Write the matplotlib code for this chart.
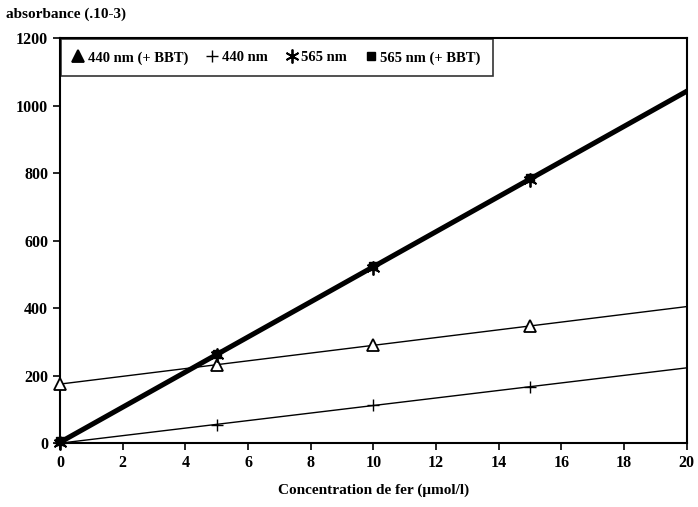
import matplotlib
matplotlib.use("Agg")
import matplotlib.pyplot as plt
import numpy as np

plt.rcParams['font.family'] = ['Liberation Serif', 'DejaVu Serif']

# concentrations de fer (umol/l)
conc = [0, 5, 10, 15]

# absorbances (.10-3)
abs_440_bbt = [175, 232, 290, 347]
abs_440 = [0, 55, 112, 167]
abs_565 = [0, 260, 520, 780]
abs_565_bbt = [5, 265, 525, 785]

labels = ["440 nm (+ BBT)", "440 nm", "565 nm", "565 nm (+ BBT)"]
xticks = [0, 2, 4, 6, 8, 10, 12, 14, 16, 18, 20]
yticks = [0, 200, 400, 600, 800, 1000, 1200]

fig = plt.figure(figsize=(6.98, 5.07), dpi=100)
ax = fig.add_axes([0.086, 0.126, 0.898, 0.799])

xfit = np.array([0, 20])

def droite(y, lw):
    # droite de regression jusqu'a 20 umol/l
    a, b = np.polyfit(conc, y, 1)
    ax.plot(xfit, a * xfit + b, color="black", lw=lw, zorder=2)

droite(abs_440_bbt, 1.0)
droite(abs_440, 1.0)
droite(abs_565, 2.6)
droite(abs_565_bbt, 2.6)

ax.plot(conc, abs_440_bbt, ls="none", marker="^", ms=8, mfc="white",
        mec="black", mew=1.3, label=labels[0], zorder=3, clip_on=False)
ax.plot(conc, abs_440, ls="none", marker="+", ms=9, mec="black",
        mew=1.0, label=labels[1], zorder=3, clip_on=False)
ax.plot(conc, abs_565, ls="none", marker=(6, 2, 0), ms=10, mec="black",
        mew=1.3, label=labels[2], zorder=3, clip_on=False)
ax.plot(conc, abs_565_bbt, ls="none", marker="s", ms=6, mfc="black",
        mec="black", label=labels[3], zorder=3, clip_on=False)

ax.set_xlim(0, 20)
ax.set_ylim(0, 1200)
ax.set_xticks(xticks)
ax.set_yticks(yticks)
ax.tick_params(direction="out", length=5, width=1.2, labelsize=11.5)
for lab in ax.get_xticklabels() + ax.get_yticklabels():
    lab.set_fontweight("bold")
for s in ax.spines.values():
    s.set_linewidth(1.5)

ax.set_xlabel("Concentration de fer (\u03bcmol/l)", fontsize=11, fontweight="bold",
              labelpad=9)
fig.text(0.008, 0.972, "absorbance (.10-3)", fontsize=11, fontweight="bold",
         ha="left", va="center")

leg = ax.legend(loc="upper left", ncol=4, frameon=True, fancybox=False,
                edgecolor="black", handlelength=0.7,
                handletextpad=0.3, columnspacing=1.3, borderpad=0.8,
                borderaxespad=0.1, prop={"weight": "bold", "size": 10.5})
leg.get_frame().set_linewidth(1.2)
leg.legend_handles[0].set_markerfacecolor("black")

fig.savefig("out.png", dpi=100)
